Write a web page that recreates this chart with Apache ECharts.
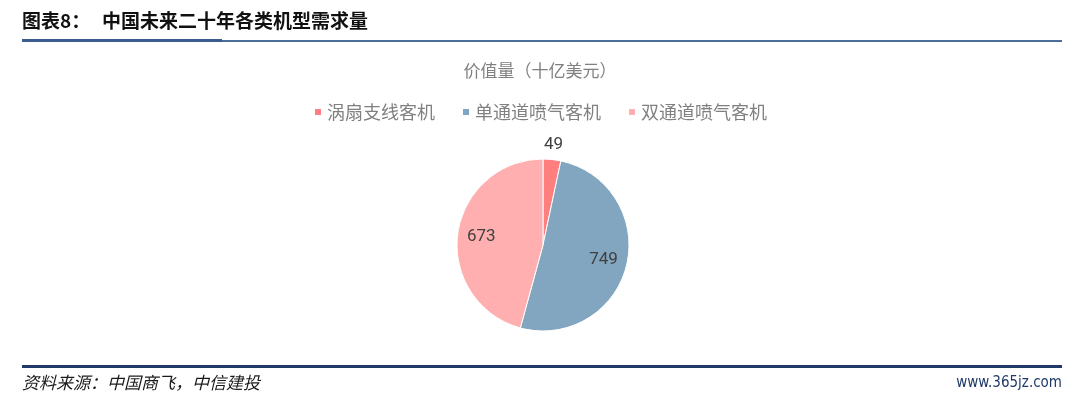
<!DOCTYPE html>
<html><head><meta charset="utf-8">
<script src="https://cdn.jsdelivr.net/npm/echarts@6/dist/echarts.min.js"></script>
<style>html,body{margin:0;padding:0;background:#fff}#c{width:1080px;height:402px}</style>
</head><body><div id="c"></div>
<script>
const categories = ['涡扇支线客机', '单通道喷气客机', '双通道喷气客机'];
const values = [49, 749, 673];
const colors = ['#FF7F7F', '#82A6BF', '#FFAFAF'];
const figTitle = '图表8：';
const mainTitle = '中国未来二十年各类机型需求量';
const chartTitle = '价值量（十亿美元）';
const sourceText = '资料来源：中国商飞，中信建投';
const siteText = 'www.365jz.com';

const chart = echarts.init(document.getElementById('c'));
const cjk = '"Noto Sans CJK SC", "Noto Sans", sans-serif';
const center = [543, 245];
const R = 86;

const mainData = categories.map((n, i) => ({ name: n, value: values[i], itemStyle: { color: colors[i] } }));
const innerLabelData = values.map((v, i) => ({ value: v, label: { show: i !== 0 } }));
const outerLabelData = values.map((v, i) => ({ value: v, label: { show: i === 0 } }));
const labelStyle = { position: 'inside', formatter: '{c}', fontSize: 17, color: '#404040', fontFamily: 'Roboto, "Open Sans", sans-serif' };

chart.setOption({
  backgroundColor: '#fff',
  animation: false,
  title: {
    text: chartTitle, left: 'center', top: 57,
    textStyle: { fontSize: 17, fontWeight: 'normal', color: '#808080', fontFamily: cjk }
  },
  legend: {
    data: categories, left: 'center', top: 98,
    itemWidth: 8, itemHeight: 8, itemGap: 26, icon: 'rect',
    textStyle: { fontSize: 18, color: '#808080', fontFamily: cjk }
  },
  graphic: [
    { type: 'text', left: 22, top: 11, style: { text: figTitle, fontSize: 19, fontWeight: 'bold', fill: '#111', fontFamily: cjk } },
    { type: 'text', left: 102, top: 11, style: { text: mainTitle, fontSize: 19, fontWeight: 'bold', fill: '#111', fontFamily: cjk } },
    { type: 'rect', shape: { x: 22, y: 39, width: 200, height: 3 }, style: { fill: '#3B5C8E' } },
    { type: 'rect', shape: { x: 222, y: 40, width: 840, height: 2 }, style: { fill: '#4D6D9C' } },
    { type: 'rect', shape: { x: 22, y: 365, width: 1040, height: 3 }, style: { fill: '#1F3A68' } },
    { type: 'text', left: 22, top: 374, style: { text: sourceText, fontSize: 17, fontStyle: 'italic', fill: '#1a1a1a', fontFamily: cjk } },
    { type: 'text', right: 18, top: 376, style: { text: siteText, fontSize: 15, fill: '#1F3A68', fontFamily: '"Liberation Sans Narrow", "DejaVu Sans Condensed", sans-serif' } }
  ],
  series: [
    {
      type: 'pie', center: center, radius: [0, R], startAngle: 90, clockwise: true,
      data: mainData, label: { show: false }, labelLine: { show: false },
      itemStyle: { borderColor: '#fff', borderWidth: 1 }, emphasis: { disabled: true }
    },
    {
      type: 'pie', center: center, radius: [0, R * 1.38], startAngle: 90, clockwise: true, silent: true,
      data: innerLabelData, itemStyle: { color: 'rgba(0,0,0,0)' }, label: labelStyle, labelLine: { show: false }, z: 5
    },
    {
      type: 'pie', center: center, radius: [0, R * 2.28], startAngle: 90, clockwise: true, silent: true,
      data: outerLabelData, itemStyle: { color: 'rgba(0,0,0,0)' }, label: labelStyle, labelLine: { show: false }, z: 5
    }
  ]
});
</script></body></html>
